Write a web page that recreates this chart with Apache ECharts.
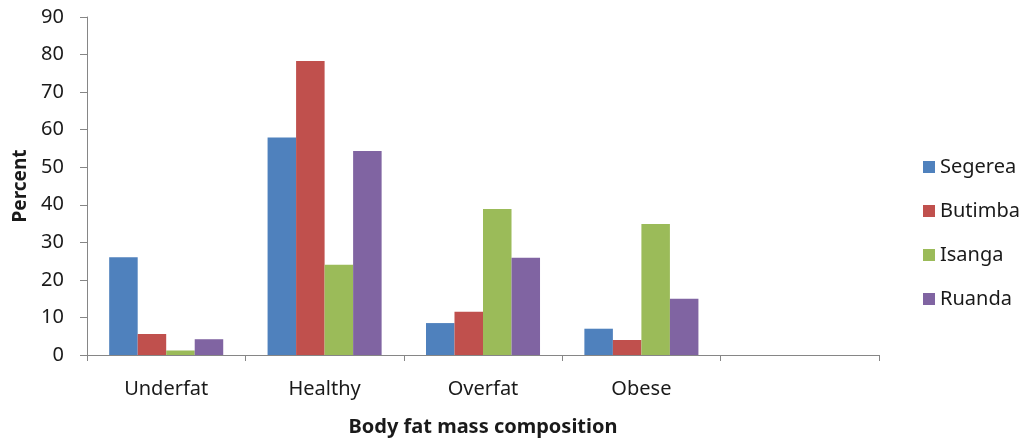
<!DOCTYPE html>
<html>
<head>
<meta charset="utf-8">
<script src="https://cdn.jsdelivr.net/npm/echarts@6/dist/echarts.min.js"></script>
<style>html,body{margin:0;padding:0;background:#fff}#c{width:1025px;height:439px}</style>
</head>
<body>
<div id="c"></div>
<script>
const categories = ['Underfat', 'Healthy', 'Overfat', 'Obese', ''];
const seriesNames = ['Segerea', 'Butimba', 'Isanga', 'Ruanda'];
const segerea = [26.0, 57.9, 8.5, 7.0, '-'];
const butimba = [5.6, 78.3, 11.5, 4.0, '-'];
const isanga = [1.2, 24.0, 38.9, 34.9, '-'];
const ruanda = [4.2, 54.3, 25.9, 15.0, '-'];
const yTicks = { min: 0, max: 90, interval: 10 };
const colors = ['#4F81BD', '#C0504D', '#9BBB59', '#8064A2'];
const values = [segerea, butimba, isanga, ruanda];

const font = 'Noto Sans';
const chart = echarts.init(document.getElementById('c'));
chart.setOption({
  animation: false,
  color: colors,
  grid: { left: 87, right: 146, top: 17, bottom: 84, containLabel: false, outerBoundsMode: 'none' },
  legend: {
    orient: 'vertical', left: 918, top: 152, itemGap: 24, itemWidth: 12, itemHeight: 12,
    icon: 'rect',
    textStyle: { fontFamily: font, fontSize: 20, color: '#1a1a1a' },
    data: seriesNames
  },
  xAxis: {
    type: 'category', data: categories,
    name: 'Body fat mass composition', nameLocation: 'middle', nameGap: 62,
    nameTextStyle: { fontFamily: font, fontSize: 20, fontWeight: 'bold', color: '#1a1a1a' },
    axisLine: { lineStyle: { color: '#868686', width: 1 } },
    axisTick: { show: true, length: 6, lineStyle: { color: '#868686' } },
    axisLabel: { fontFamily: font, fontSize: 20, color: '#1a1a1a', margin: 24 },
    splitLine: { show: false }
  },
  yAxis: {
    type: 'value', min: yTicks.min, max: yTicks.max, interval: yTicks.interval,
    name: 'Percent', nameLocation: 'middle', nameGap: 57, nameRotate: 90,
    nameTextStyle: { fontFamily: font, fontSize: 19, fontWeight: 'bold', color: '#1a1a1a' },
    axisLine: { show: true, lineStyle: { color: '#868686', width: 1 } },
    axisTick: { show: true, length: 7, lineStyle: { color: '#868686' } },
    axisLabel: { fontFamily: font, fontSize: 20, color: '#1a1a1a', margin: 23 },
    splitLine: { show: false }
  },
  series: seriesNames.map((n, i) => ({
    name: n, type: 'bar', data: values[i],
    barGap: '0%', barCategoryGap: '28%',
    itemStyle: { color: colors[i] }
  }))
});
</script>
</body>
</html>
